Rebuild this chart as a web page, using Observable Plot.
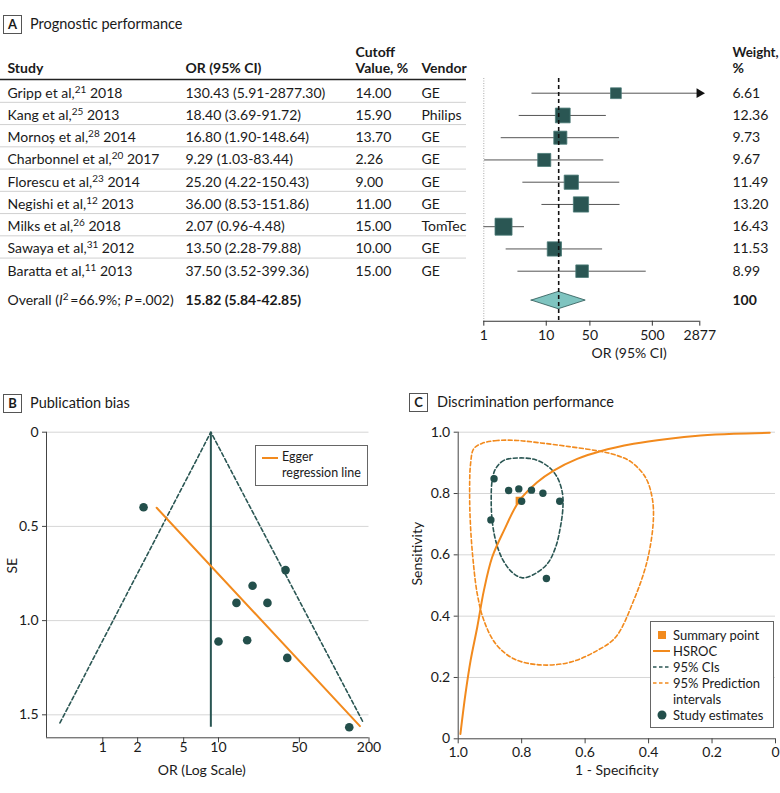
<!DOCTYPE html>
<html><head><meta charset="utf-8">
<script src="https://cdn.jsdelivr.net/npm/d3@7"></script>
<script src="https://cdn.jsdelivr.net/npm/@observablehq/plot@0.6"></script>
<style>
body{margin:0;background:#fff;font-family:Lato,sans-serif;color:#1a1a1a}
#wrap{position:relative;width:780px;height:793px;overflow:hidden;background:#fff}
.abs{position:absolute}
.plabel{position:absolute;box-sizing:border-box;border:1px solid #555;font-weight:bold;font-size:13px;width:19px;height:19px;line-height:17px;text-align:center}
.ptitle{position:absolute;font-size:14.5px;line-height:18px;height:18px;white-space:nowrap}
.legend{position:absolute;box-sizing:border-box;border:1px solid #666;background:#fff}
.legend .txt{position:absolute;line-height:16px;white-space:nowrap}
</style></head>
<body>
<div id="wrap">
  <div class="plabel" style="left:3px;top:15px">A</div>
  <div class="ptitle" style="left:30px;top:15px">Prognostic performance</div>
  <div class="plabel" style="left:3px;top:394px">B</div>
  <div class="ptitle" style="left:30px;top:394px">Publication bias</div>
  <div class="plabel" style="left:409px;top:393px">C</div>
  <div class="ptitle" style="left:437px;top:393px">Discrimination performance</div>
  <div id="plotA" class="abs" style="left:0;top:0"></div>
  <div id="plotB" class="abs" style="left:0;top:380px"></div>
  <div id="plotC" class="abs" style="left:390px;top:380px"></div>
  <div class="legend" style="left:255px;top:445px;width:113px;height:41px;font-size:12.5px">
    <svg class="abs" style="left:6px;top:10px" width="16" height="4"><line x1="0" y1="2" x2="16" y2="2" stroke="#f28a1d" stroke-width="2"/></svg>
    <div class="txt" style="left:26px;top:3px">Egger<br>regression line</div>
  </div>
  <div class="legend" style="left:650px;top:621px;width:124px;height:107px;font-size:13px">
    <svg class="abs" style="left:0;top:0" width="24" height="105">
      <rect x="7" y="9" width="8" height="8" fill="#f28a1d"/>
      <line x1="2" y1="29" x2="19" y2="29" stroke="#f28a1d" stroke-width="2"/>
      <line x1="2" y1="45" x2="19" y2="45" stroke="#2a5653" stroke-width="1.6" stroke-dasharray="3.5,2.5"/>
      <line x1="2" y1="61" x2="19" y2="61" stroke="#f28a1d" stroke-width="1.6" stroke-dasharray="3.5,2.5"/>
      <circle cx="11" cy="93" r="4.5" fill="#234f4b"/>
    </svg>
    <div class="txt" style="left:22px;top:5px">Summary point<br>HSROC<br>95% CIs<br>95% Prediction<br>intervals<br>Study estimates</div>
  </div>
</div>
<script>
// ---------- Panel A data ----------
const studyNames = ["Gripp et al,^21^ 2018","Kang et al,^25^ 2013","Mornoș et al,^28^ 2014","Charbonnel et al,^20^ 2017","Florescu et al,^23^ 2014","Negishi et al,^12^ 2013","Milks et al,^26^ 2018","Sawaya et al,^31^ 2012","Baratta et al,^11^ 2013"];
const orValues = [130.43, 18.40, 16.80, 9.29, 25.20, 36.00, 2.07, 13.50, 37.50];
const ciLower  = [5.91, 3.69, 1.90, 1.03, 4.22, 8.53, 0.96, 2.28, 3.52];
const ciUpper  = [2877.30, 91.72, 148.64, 83.44, 150.43, 151.86, 4.48, 79.88, 399.36];
const cutoffs  = ["14.00","15.90","13.70","2.26","9.00","11.00","15.00","10.00","15.00"];
const vendors  = ["GE","Philips","GE","GE","GE","GE","TomTec","GE","GE"];
const weights  = [6.61, 12.36, 9.73, 9.67, 11.49, 13.20, 16.43, 11.53, 8.99];
const overallLabel = "Overall (_I_^2^\u2009=66.9%; _P_\u2009=.002)";
const overallOR = 15.82, overallLo = 5.84, overallHi = 42.85, overallWeight = "100";
const forestTicks = [1, 10, 50, 500, 2877];

// ---------- Panel B data ----------
const funnelOR = [135, 19.7, 17.7, 10.0, 26.5, 38.0, 2.25, 14.3, 39.3];
const funnelSE = [1.566, 0.815, 1.104, 1.111, 0.906, 0.732, 0.398, 0.906, 1.198];
const funnelCenterOR = 8.59;
const funnelEdgeOR = [0.426, 8.59, 178];
const funnelEdgeSE = [1.543, 0, 1.54];
const eggerOR = [2.92, 167];
const eggerSE = [0.401, 1.56];
const funnelXTicks = [1, 2, 5, 10, 50, 200];
const funnelYTicks = [0, 0.5, 1.0, 1.5];

// ---------- Panel C data ----------
const studySpec = [0.887, 0.841, 0.809, 0.769, 0.733, 0.800, 0.680, 0.897, 0.722];
const studySens = [0.848, 0.810, 0.815, 0.811, 0.801, 0.775, 0.775, 0.714, 0.523];
const summarySpec = [0.807], summarySens = [0.777];
const hsrocSpec = [0.993, 0.977, 0.961, 0.940, 0.919, 0.893, 0.856, 0.807, 0.751, 0.699, 0.625, 0.552, 0.447, 0.341, 0.236, 0.131, 0.018];
const hsrocSens = [0.016, 0.147, 0.255, 0.364, 0.484, 0.592, 0.679, 0.777, 0.837, 0.875, 0.913, 0.938, 0.962, 0.978, 0.989, 0.995, 0.998];
const ciSpec = [0.809, 0.856, 0.882, 0.893, 0.896, 0.893, 0.882, 0.861, 0.830, 0.798, 0.762, 0.719, 0.693, 0.678, 0.670, 0.672, 0.688, 0.714, 0.756];
const ciSens = [0.916, 0.908, 0.881, 0.842, 0.777, 0.712, 0.647, 0.587, 0.543, 0.525, 0.536, 0.571, 0.625, 0.690, 0.755, 0.804, 0.853, 0.886, 0.910];
const prSpec = [0.814, 0.877, 0.924, 0.951, 0.961, 0.964, 0.961, 0.953, 0.940, 0.919, 0.882, 0.825, 0.741, 0.646, 0.562, 0.504, 0.447, 0.404, 0.385, 0.389, 0.410, 0.455, 0.505, 0.560, 0.650, 0.740];
const prSens = [0.973, 0.973, 0.964, 0.946, 0.897, 0.799, 0.690, 0.582, 0.473, 0.386, 0.310, 0.261, 0.241, 0.250, 0.288, 0.331, 0.451, 0.582, 0.712, 0.788, 0.853, 0.903, 0.926, 0.939, 0.953, 0.965];
const rocTicks = [1, 0.8, 0.6, 0.4, 0.2, 0];

// ---------- styling constants ----------
const TEAL = "#2a5653", TEAL_DOT = "#234f4b", ORANGE = "#f28a1d", LIGHT_TEAL = "#7fc4c0";
const FONT = {fontFamily: "Lato, sans-serif", fontSize: "14px", color: "#1a1a1a", background: "transparent", overflow: "visible"};

function richify(svg) {
  const NS = "http://www.w3.org/2000/svg";
  svg.querySelectorAll("text").forEach(t => {
    if (t.querySelector("tspan")) return;
    const s = t.textContent;
    if (!/[\^_]/.test(s)) return;
    while (t.firstChild) t.removeChild(t.firstChild);
    let shift = 0;
    s.split(/(\^[^^]*\^|_[^_]*_)/).forEach(p => {
      if (!p) return;
      const ts = document.createElementNS(NS, "tspan");
      if (p[0] === "^") {
        ts.textContent = p.slice(1, -1);
        ts.setAttribute("font-size", "10");
        ts.setAttribute("dy", "-5");
        shift = 5;
      } else {
        if (p[0] === "_") { ts.textContent = p.slice(1, -1); ts.setAttribute("font-style", "italic"); }
        else ts.textContent = p;
        if (shift) { ts.setAttribute("dy", String(shift)); shift = 0; }
      }
      t.appendChild(ts);
    });
  });
}

// ---------- Panel A ----------
const rowsA = studyNames.map((s, i) => ({
  i, study: s, or: orValues[i], lo: ciLower[i], hi: ciUpper[i],
  orText: `${orValues[i].toFixed(2)} (${ciLower[i].toFixed(2)}-${ciUpper[i].toFixed(2)})`,
  cutoff: cutoffs[i], vendor: vendors[i], weight: weights[i], weightText: weights[i].toFixed(2)
}));
const OVERALL_Y = 9.32, AXIS_Y = 10.25, TOP_Y = -0.66, H1 = -1.83, H2 = -1.11, SEP = 0.41, HEAD_RULE = -0.62;
const XMAX = forestTicks[forestTicks.length - 1];
const overallRow = [{y: OVERALL_Y, study: overallLabel, orText: `${overallOR.toFixed(2)} (${overallLo.toFixed(2)}-${overallHi.toFixed(2)})`, weightText: overallWeight}];
const diamond = [
  {x: overallLo, y1: OVERALL_Y, y2: OVERALL_Y},
  {x: overallOR, y1: OVERALL_Y - 0.39, y2: OVERALL_Y + 0.39},
  {x: overallHi, y1: OVERALL_Y, y2: OVERALL_Y}
];
const colX = {study: 7, or: 185, cutoff: 355, vendor: 421, weight: 732};
const col = (data, y, text, dx, extra = {}) => Plot.text(data, {y, text, frameAnchor: "left", dx, textAnchor: "start", fill: "#1a1a1a", ...extra});
const headers2 = [{y: H2}], headers1 = [{y: H1}];

const plotA = Plot.plot({
  width: 780, height: 370, marginLeft: 0, marginRight: 0, marginTop: 0, marginBottom: 49.3,
  style: FONT,
  x: {type: "log", domain: [1, XMAX], range: [483.3, 699.3], axis: null},
  y: {domain: [0, 8], range: [92.7, 270.7], axis: null},
  r: {type: "sqrt", domain: [0, 16.43], range: [0, 9.6]},
  marks: [
    Plot.ruleY(rowsA.slice(0, -1), {y: d => d.i + SEP, stroke: "#d0d0d0", insetRight: 780 - 466}),
    Plot.ruleY([HEAD_RULE], {stroke: "#222", strokeWidth: 1.5, insetRight: 780 - 466}),
    Plot.ruleX([1], {y1: TOP_Y, y2: AXIS_Y, stroke: "#aaa", strokeDasharray: "1,1.5"}),
    Plot.ruleY(rowsA, {y: "i", x1: d => Math.max(d.lo, 1), x2: d => Math.min(d.hi, XMAX), stroke: "#555"}),
    Plot.dot(rowsA.filter(d => d.hi > XMAX), {x: () => XMAX * 0.985, y: "i", symbol: "triangle", rotate: 90, r: 3.6, fill: "#111"}),
    Plot.dot(rowsA, {x: "or", y: "i", r: "weight", symbol: "square", fill: TEAL, stroke: "#4b7b77", strokeWidth: 0.8}),
    Plot.areaY(diamond, {x: "x", y1: "y1", y2: "y2", fill: LIGHT_TEAL, stroke: TEAL, strokeWidth: 0.8}),
    Plot.ruleX([overallOR], {y1: TOP_Y, y2: AXIS_Y, stroke: "#111", strokeWidth: 1.6, strokeDasharray: "4,3"}),
    // x axis (log) drawn explicitly
    Plot.ruleY([AXIS_Y], {x1: 1, x2: XMAX, stroke: "#333"}),
    Plot.ruleX(forestTicks, {x: d => d, y1: AXIS_Y, y2: AXIS_Y + 0.22, stroke: "#333"}),
    Plot.text(forestTicks, {x: d => d, y: () => AXIS_Y + 0.64, text: d => String(d), fill: "#1a1a1a"}),
    Plot.text(["OR (95% CI)"], {text: d => d, frameAnchor: "left", dx: 591, y: () => 11.7, fill: "#1a1a1a"}),
    // header
    col(headers2, "y", () => "Study", colX.study, {fontWeight: "bold"}),
    col(headers2, "y", () => "OR (95% CI)", colX.or, {fontWeight: "bold"}),
    col(headers1, "y", () => "Cutoff", colX.cutoff, {fontWeight: "bold"}),
    col(headers2, "y", () => "Value, %", colX.cutoff, {fontWeight: "bold"}),
    col(headers2, "y", () => "Vendor", colX.vendor, {fontWeight: "bold"}),
    col(headers1, "y", () => "Weight,", colX.weight, {fontWeight: "bold", fontSize: 13.3}),
    col(headers2, "y", () => "%", colX.weight, {fontWeight: "bold"}),
    // rows
    col(rowsA, "i", "study", colX.study),
    col(rowsA, "i", "orText", colX.or),
    col(rowsA, "i", "cutoff", colX.cutoff),
    col(rowsA, "i", "vendor", colX.vendor),
    col(rowsA, "i", "weightText", colX.weight),
    col(overallRow, "y", "study", colX.study),
    col(overallRow, "y", "orText", colX.or, {fontWeight: "bold"}),
    col(overallRow, "y", "weightText", colX.weight, {fontWeight: "bold"})
  ]
});
richify(plotA);
document.getElementById("plotA").appendChild(plotA);

// ---------- Panel B ----------
const funnelPts = funnelOR.map((v, i) => ({or: v, se: funnelSE[i]}));
const funnelEdge = funnelEdgeOR.map((v, i) => ({or: v, se: funnelEdgeSE[i]}));
const egger = eggerOR.map((v, i) => ({or: v, se: eggerSE[i]}));
const B_XMIN = 0.326, B_YMAX = 1.622;
const plotB = Plot.plot({
  width: 390, height: 413, marginLeft: 46, marginRight: 21.5, marginTop: 51.7, marginBottom: 55.7,
  style: FONT,
  x: {type: "log", domain: [B_XMIN, 200], axis: null},
  y: {domain: [0, B_YMAX], reverse: true, axis: null},
  marks: [
    Plot.gridY(funnelYTicks, {stroke: "#d6d6d6", strokeOpacity: 1}),
    Plot.line(funnelEdge, {x: "or", y: "se", stroke: TEAL, strokeWidth: 1.6, strokeDasharray: "4,2.5"}),
    Plot.ruleX([funnelCenterOR], {y1: 0, y2: 1.566, stroke: TEAL, strokeWidth: 2}),
    Plot.line(egger, {x: "or", y: "se", stroke: ORANGE, strokeWidth: 2}),
    Plot.dot(funnelPts, {x: "or", y: "se", r: 4.3, fill: TEAL_DOT}),
    Plot.ruleX([B_XMIN], {stroke: "#444"}),
    Plot.ruleY([B_YMAX], {stroke: "#444"}),
    Plot.axisY(funnelYTicks, {tickFormat: d => d === 0 ? "0" : d.toFixed(1), tickSize: 4, tickPadding: 4, label: null, stroke: "#444", fill: "#1a1a1a"}),
    Plot.ruleX(funnelXTicks, {x: d => d, y1: B_YMAX, y2: B_YMAX + 0.027, stroke: "#444"}),
    Plot.text(funnelXTicks, {x: d => d, frameAnchor: "bottom", dy: 14.5, text: d => String(d), fill: "#1a1a1a"}),
    Plot.text(["SE"], {text: d => d, frameAnchor: "left", y: () => 0.75, dx: -34, rotate: -90, fill: "#1a1a1a"}),
    Plot.text(["OR (Log Scale)"], {text: d => d, frameAnchor: "bottom", dx: -6, dy: 37, fill: "#1a1a1a"})
  ]
});
document.getElementById("plotB").appendChild(plotB);

// ---------- Panel C ----------
const studyPts = studySpec.map((v, i) => ({x: v, y: studySens[i]}));
const summaryPts = summarySpec.map((v, i) => ({x: v, y: summarySens[i]}));
const hsroc = hsrocSpec.map((v, i) => ({x: v, y: hsrocSens[i]}));
const ciRegion = ciSpec.map((v, i) => ({x: v, y: ciSens[i]}));
const prRegion = prSpec.map((v, i) => ({x: v, y: prSens[i]}));
const fmtRoc = d => d === 0 ? "0" : d.toFixed(1);
const plotC = Plot.plot({
  width: 390, height: 413, marginLeft: 67.7, marginRight: 5, marginTop: 51.7, marginBottom: 54.7,
  style: FONT,
  x: {domain: [1, 0], axis: null},
  y: {domain: [0, 1], axis: null},
  marks: [
    Plot.gridY([0.2, 0.4, 0.6, 0.8, 1.0], {stroke: "#d6d6d6", strokeOpacity: 1}),
    Plot.line(prRegion, {x: "x", y: "y", curve: "catmull-rom-closed", stroke: ORANGE, strokeWidth: 1.6, strokeDasharray: "4,2.5"}),
    Plot.line(ciRegion, {x: "x", y: "y", curve: "catmull-rom-closed", stroke: TEAL, strokeWidth: 1.6, strokeDasharray: "4,2.5"}),
    Plot.line(hsroc, {x: "x", y: "y", curve: "catmull-rom", stroke: ORANGE, strokeWidth: 2}),
    Plot.dot(summaryPts, {x: "x", y: "y", symbol: "square", r: 4.3, fill: ORANGE}),
    Plot.dot(studyPts, {x: "x", y: "y", r: 3.7, fill: TEAL_DOT}),
    Plot.ruleX([1], {stroke: "#444"}),
    Plot.ruleY([0], {stroke: "#444"}),
    Plot.axisY(rocTicks, {tickFormat: fmtRoc, tickSize: 4, tickPadding: 4, label: null, stroke: "#444", fill: "#1a1a1a"}),
    Plot.axisX(rocTicks, {tickFormat: fmtRoc, tickSize: 5, tickPadding: 3, label: null, stroke: "#444", fill: "#1a1a1a"}),
    Plot.text(["Sensitivity"], {text: d => d, frameAnchor: "left", dx: -41, rotate: -90, fill: "#1a1a1a"}),
    Plot.text(["1 - Specificity"], {text: d => d, frameAnchor: "bottom", dy: 36, fill: "#1a1a1a"})
  ]
});
document.getElementById("plotC").appendChild(plotC);
</script>
</body></html>
